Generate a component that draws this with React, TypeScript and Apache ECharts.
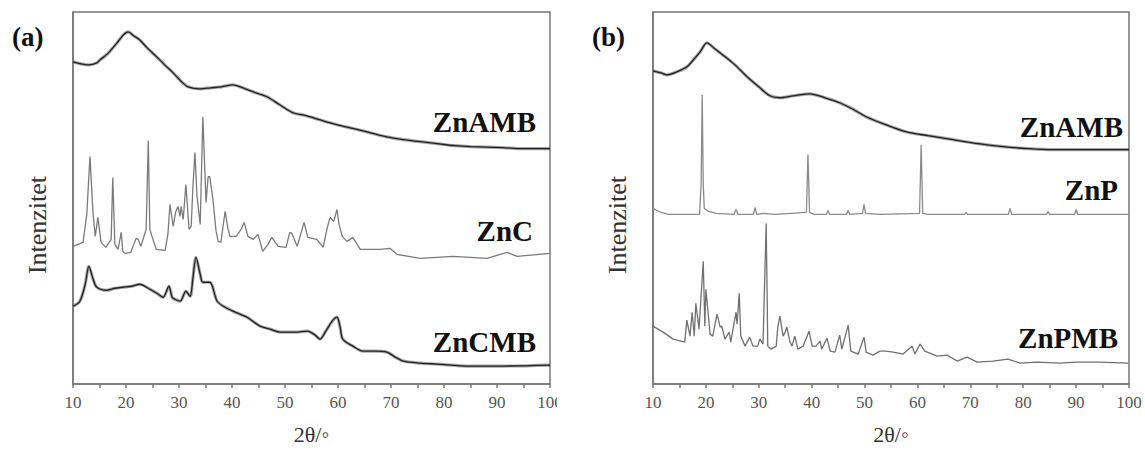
import React, { useEffect, useRef } from "react";
import * as echarts from "echarts";

// ---- axis / tick settings ----
const X_MIN = 10;
const X_MAX = 100;
const X_STEP = 10;
const Y_MAX = 373;

const panelTags = ["(a)", "(b)"];
const xTitle = "2θ/◦";
const yTitle = "Intenzitet";
const labelsA = ["ZnAMB", "ZnC", "ZnCMB"];
const labelsB = ["ZnAMB", "ZnP", "ZnPMB"];

// ---- panel (a) data: [2θ, intensity (offset, a.u.)] ----
const znAMB_a: [number, number][] = [
  [10, 323], [11.5, 321], [13, 320], [14.5, 322], [15.1, 325], [16.5, 331], [18.3, 342],
  [19.5, 350], [20.4, 353], [21.5, 349], [22.6, 345], [24, 337], [25.8, 328], [27.3, 320],
  [28.9, 312], [30.3, 304], [31.7, 298], [34, 296], [36, 297], [38, 298], [40.2, 300],
  [42.5, 296], [44.5, 292], [46.6, 288], [49, 280], [51.5, 272], [54, 269], [56.5, 265],
  [59.8, 260], [63, 256], [66, 252], [69, 248], [72.3, 245], [75.5, 243], [78.7, 241],
  [82, 239], [85, 238], [91, 237], [95, 236], [100, 236],
];

const znC_a: [number, number][] = [
  [10, 138], [11.9, 142], [12.6, 170], [13.2, 228], [13.8, 170], [14.2, 148], [14.7, 167],
  [15.3, 142], [16.2, 137], [17.2, 145], [17.5, 207], [17.9, 140], [18.5, 135], [19.1, 152],
  [19.4, 133], [19.8, 131], [20.9, 132], [21.9, 146], [22.3, 145], [22.8, 138], [23.8, 155],
  [24.2, 244], [24.5, 155], [24.9, 148], [25.7, 135], [27.4, 134], [27.9, 150], [28.3, 180],
  [28.9, 158], [29.4, 173], [29.8, 178], [30.2, 168], [30.4, 178], [30.8, 165], [31.3, 200],
  [31.9, 155], [32.3, 158], [32.6, 195], [33.0, 232], [33.4, 188], [34.0, 160], [34.5, 268],
  [35.1, 182], [35.5, 208], [35.8, 208], [36.4, 185], [37.0, 153], [37.4, 143], [37.9, 142],
  [38.7, 173], [39.2, 157], [39.6, 148], [40.8, 148], [41.7, 155], [42.3, 162], [43.0, 148],
  [44.0, 145], [44.9, 150], [45.8, 133], [46.8, 140], [47.5, 147], [48.7, 138], [50.2, 137],
  [50.9, 152], [51.3, 151], [52.3, 138], [53.6, 162], [54.3, 147], [56.0, 145], [57.2, 137],
  [57.9, 155], [58.5, 167], [59.2, 163], [59.8, 175], [60.2, 160], [60.8, 148], [61.7, 143],
  [62.8, 147], [64.2, 135], [66.0, 135], [67.9, 135], [69.8, 136], [71.1, 130], [75.5, 126],
  [81.7, 128], [88.1, 126], [91.9, 132], [93.8, 128], [100, 131],
];

const znCMB_a: [number, number][] = [
  [10, 78], [11.3, 83], [12.3, 100], [13.0, 118], [13.8, 105], [14.5, 97], [16.4, 94],
  [17.9, 96], [19.4, 97], [21.1, 98], [22.6, 100], [24.5, 95], [25.8, 91], [27.0, 87],
  [28.1, 98], [28.7, 87], [29.2, 85], [30.2, 83], [31.3, 93], [32.1, 88], [32.6, 105],
  [33.2, 127], [34.0, 110], [34.5, 102], [35.8, 102], [37.2, 83], [38.7, 77], [40.2, 73],
  [42.8, 67], [45.3, 58], [47.2, 55], [49.1, 52], [51.9, 52], [54.2, 53], [55.7, 49],
  [56.6, 45], [57.7, 53], [58.9, 63], [59.8, 67], [60.4, 57], [60.9, 45], [62.8, 38],
  [64.7, 33], [67.0, 33], [69.2, 32], [70.8, 27], [72.3, 23], [75.5, 21], [78.7, 20],
  [84.9, 18], [91.1, 18], [100, 19],
];

// ---- panel (b) data ----
const znAMB_b: [number, number][] = [
  [10, 314], [11.5, 312], [12.6, 310], [14.5, 313], [16.4, 318], [17.8, 326], [18.9, 333],
  [20.2, 342], [21.5, 337], [23.2, 330], [25.5, 320], [27.8, 308], [30, 298], [32.1, 289],
  [34, 287], [36.5, 289], [39.7, 291], [42.5, 287], [45.3, 282], [48, 275], [50.3, 268],
  [54, 260], [57.8, 253], [62, 249], [66.7, 245], [71.5, 241], [76.2, 238], [81, 236],
  [85.6, 235], [92, 235], [100, 235],
];

const znP_b: [number, number][] = [
  [10, 176], [11.5, 172], [13, 170], [18.8, 170], [19.1, 200], [19.3, 290], [19.5, 200],
  [19.7, 176], [20.5, 173], [22, 171], [25.3, 170], [25.7, 175], [26.1, 170], [29.0, 170],
  [29.3, 177], [29.6, 170], [31, 171], [33, 170], [39.0, 172], [39.3, 230], [39.6, 172],
  [40.5, 170], [42.8, 170], [43.1, 174], [43.4, 170], [46.6, 170], [46.9, 174], [47.2, 170],
  [49.6, 171], [49.9, 180], [50.2, 171], [53, 170], [60.4, 171], [60.7, 240], [61.0, 171],
  [62, 170], [68.9, 170], [69.2, 172], [69.5, 170], [77.2, 170], [77.5, 176], [77.8, 170],
  [84.4, 170], [84.7, 173], [85.0, 170], [89.7, 170], [90.0, 175], [90.3, 170], [100, 170],
];

const znPMB_b: [number, number][] = [
  [10.0, 58], [11.9, 52], [13.8, 45], [16.0, 42], [16.4, 64], [17.0, 48], [17.4, 72],
  [17.8, 48], [18.1, 81], [18.7, 55], [19.5, 123], [19.8, 58], [20.0, 95], [20.8, 50],
  [21.3, 48], [22.1, 70], [22.7, 57], [23.0, 58], [23.6, 45], [24.4, 52], [24.7, 42],
  [25.7, 72], [25.9, 60], [26.3, 91], [26.6, 48], [27.4, 38], [28.3, 47], [28.9, 38],
  [29.8, 38], [30.2, 45], [30.8, 40], [31.4, 161], [31.7, 38], [32.3, 35], [33.3, 38],
  [33.6, 57], [34.0, 68], [34.6, 48], [35.0, 52], [35.3, 57], [35.9, 42], [36.3, 38],
  [36.8, 48], [37.4, 35], [38.4, 38], [39.5, 53], [40.1, 38], [40.8, 38], [41.6, 43],
  [41.9, 35], [42.9, 46], [43.5, 33], [44.4, 32], [45.3, 49], [45.7, 35], [46.9, 59],
  [47.4, 33], [48.8, 30], [49.9, 47], [50.3, 32], [51.6, 29], [52.9, 33], [54.0, 33],
  [55.4, 32], [57.3, 30], [59.0, 38], [59.5, 30], [60.5, 40], [61.4, 33], [63.7, 28],
  [65.6, 29], [67.5, 23], [69.4, 27], [71.3, 22], [74.3, 23], [77.1, 25], [79.4, 21],
  [82.6, 22], [86.9, 21], [90.2, 22], [94.5, 22], [99.8, 21],
];

const SERIF = "'Liberation Serif', 'Times New Roman', serif";

function xAxisFor(gridIndex: number) {
  return {
    type: "value",
    gridIndex,
    min: X_MIN,
    max: X_MAX,
    interval: X_STEP,
    name: xTitle,
    nameLocation: "middle",
    nameGap: 39,
    nameTextStyle: { fontFamily: SERIF, fontSize: 22, color: "#333" },
    axisLine: { show: true, lineStyle: { color: "#777", width: 1.5 } },
    axisTick: { show: true, inside: false, length: 4, lineStyle: { color: "#777", width: 1.5 } },
    minorTick: { show: true, splitNumber: 2, length: 4, lineStyle: { color: "#777", width: 1.5 } },
    axisLabel: { fontFamily: SERIF, fontSize: 17, color: "#555", margin: 10 },
    splitLine: { show: false },
  };
}

function yAxisFor(gridIndex: number) {
  return {
    type: "value",
    gridIndex,
    min: 0,
    max: Y_MAX,
    axisLine: { show: true, lineStyle: { color: "#777", width: 1.5 } },
    axisTick: { show: false },
    axisLabel: { show: false },
    splitLine: { show: false },
  };
}

function band(name: string, data: [number, number][], idx: number) {
  return [
    {
      name: name + " band",
      type: "line",
      xAxisIndex: idx,
      yAxisIndex: idx,
      data,
      showSymbol: false,
      smooth: 0.3,
      silent: true,
      lineStyle: { color: "#6a6a6a", width: 3.2, opacity: 0.6 },
    },
    {
      name,
      type: "line",
      xAxisIndex: idx,
      yAxisIndex: idx,
      data,
      showSymbol: false,
      smooth: 0.3,
      lineStyle: { color: "#222", width: 1.3 },
    },
  ];
}

function thin(name: string, data: [number, number][], idx: number, color: string) {
  return {
    name,
    type: "line",
    xAxisIndex: idx,
    yAxisIndex: idx,
    data,
    showSymbol: false,
    lineStyle: { color, width: 1.3 },
  };
}

function label(text: string, x: number, y: number) {
  return {
    type: "text",
    x,
    y,
    style: {
      text,
      fill: "#111",
      font: `bold 29px ${SERIF}`,
      textAlign: "right",
      textVerticalAlign: "middle",
    },
  };
}

function yName(x: number, y: number) {
  return {
    type: "text",
    x,
    y,
    rotation: Math.PI / 2,
    style: {
      text: yTitle,
      fill: "#333",
      font: `26px ${SERIF}`,
      textAlign: "center",
      textVerticalAlign: "middle",
    },
  };
}

export default function App() {
  const ref = useRef<HTMLDivElement>(null);
  useEffect(() => {
    if (!ref.current) return;
    const chart = echarts.init(ref.current, undefined, { renderer: "svg" });
    chart.setOption({
      animation: false,
      backgroundColor: "#fff",
      grid: [
        { left: 73, top: 12, width: 477, height: 373, show: true, borderColor: "#777", borderWidth: 1.5 },
        { left: 653, top: 12, width: 476, height: 373, show: true, borderColor: "#777", borderWidth: 1.5 },
      ],
      xAxis: [xAxisFor(0), xAxisFor(1)],
      yAxis: [yAxisFor(0), yAxisFor(1)],
      series: [
        ...band(labelsA[0] + " (a)", znAMB_a, 0),
        thin(labelsA[1], znC_a, 0, "#7a7a7a"),
        ...band(labelsA[2], znCMB_a, 0),
        ...band(labelsB[0] + " (b)", znAMB_b, 1),
        thin(labelsB[1], znP_b, 1, "#8a8a8a"),
        thin(labelsB[2], znPMB_b, 1, "#707070"),
      ],
      graphic: [
        // clip the last tick label of panel (a) like the source image
        { type: "rect", x: 557, y: 392, shape: { x: 0, y: 0, width: 22, height: 30 }, style: { fill: "#fff" }, z: 100 },
        {
          type: "text", x: 12, y: 37,
          style: { text: panelTags[0], fill: "#111", font: `bold 27px ${SERIF}`, textAlign: "left", textVerticalAlign: "middle" },
        },
        {
          type: "text", x: 592, y: 37,
          style: { text: panelTags[1], fill: "#111", font: `bold 27px ${SERIF}`, textAlign: "left", textVerticalAlign: "middle" },
        },
        yName(37, 225),
        yName(617, 225),
        label(labelsA[0], 536, 122),
        label(labelsA[1], 533, 231),
        label(labelsA[2], 536, 342),
        label(labelsB[0], 1123, 127),
        label(labelsB[1], 1118, 190),
        label(labelsB[2], 1118, 338),
      ],
    });
    return () => chart.dispose();
  }, []);
  return (
    <div
      ref={ref}
      style={{ position: "absolute", left: 0, top: 0, width: 1145, height: 450 }}
    />
  );
}
